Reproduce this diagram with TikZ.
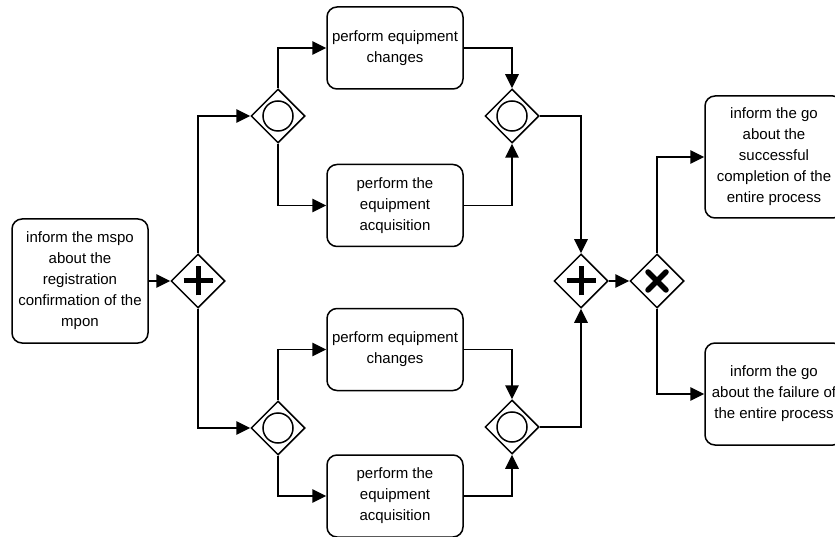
\documentclass[tikz,border=0pt]{standalone}
\usepackage{fontspec}
\setmainfont{Liberation Sans}
\usetikzlibrary{shapes.geometric,arrows.meta}

\tikzset{
  task/.style={draw, rounded corners=10pt, line width=1.5pt, align=center,
    inner sep=2pt, font=\fontsize{15}{21}\selectfont},
  gate/.style={diamond, draw, line width=1.5pt, minimum width=54pt,
    minimum height=54pt, inner sep=0pt, fill=white},
  inclusive/.style={gate, path picture={
    \draw[line width=1.5pt] (path picture bounding box.center) circle (15pt);}},
  parallel/.style={gate, path picture={
    \draw[line width=5pt]
      ([xshift=-14.5pt]path picture bounding box.center) -- ([xshift=14.5pt]path picture bounding box.center)
      ([yshift=-14.5pt]path picture bounding box.center) -- ([yshift=14.5pt]path picture bounding box.center);}},
  exclusive/.style={gate, path picture={
    \draw[line width=5.5pt, line cap=round]
      ([shift={(-9pt,-9pt)}]path picture bounding box.center) -- ([shift={(9pt,9pt)}]path picture bounding box.center)
      ([shift={(-9pt,9pt)}]path picture bounding box.center) -- ([shift={(9pt,-9pt)}]path picture bounding box.center);}},
  flow/.style={line width=1.5pt, -{Triangle[length=14pt,width=13.5pt]}},
}

\begin{document}
\begin{tikzpicture}[x=1pt, y=-1pt]
  \useasboundingbox (0,0) rectangle (835,537);
  \clip (0,0) rectangle (835,537);

  % tasks
  \node[task, minimum width=136pt, minimum height=124pt] (start) at (80,281)
    {inform the mspo\\about the\\registration\\confirmation of the\\mpon};
  \node[task, minimum width=136pt, minimum height=82pt] (chgA) at (395,48)
    {perform equipment\\changes};
  \node[task, minimum width=136pt, minimum height=82pt] (acqA) at (395,205.5)
    {perform the\\equipment\\acquisition};
  \node[task, minimum width=136pt, minimum height=82pt] (chgB) at (395,349.5)
    {perform equipment\\changes};
  \node[task, minimum width=136pt, minimum height=82pt] (acqB) at (395,496)
    {perform the\\equipment\\acquisition};
  \node[task, minimum width=138pt, minimum height=122pt] (ok) at (774,157)
    {inform the go\\about the\\successful\\completion of the\\entire process};
  \node[task, minimum width=138pt, minimum height=102pt] (fail) at (774,394)
    {inform the go\\about the failure of\\the entire process};

  % gateways
  \node[parallel]  (fork)  at (198,281) {};
  \node[inclusive] (splitA) at (278,116) {};
  \node[inclusive] (splitB) at (278,428) {};
  \node[inclusive] (mergeA) at (512,116) {};
  \node[inclusive] (mergeB) at (512,427) {};
  \node[parallel]  (join)  at (581,281) {};
  \node[exclusive] (decide) at (657,281) {};

  % sequence flows
  \draw[flow] (start.east) -- (fork.west);
  \draw[flow] (fork.north) |- (splitA.west);
  \draw[flow] (fork.south) |- (splitB.west);
  \draw[flow] (splitA.north) |- (chgA.west);
  \draw[flow] (splitA.south) |- (acqA.west);
  \draw[flow] (splitB.north) |- (chgB.west);
  \draw[flow] (splitB.south) |- (acqB.west);
  \draw[flow] (chgA.east) -| (mergeA.north);
  \draw[flow] (acqA.east) -| (mergeA.south);
  \draw[flow] (chgB.east) -| (mergeB.north);
  \draw[flow] (acqB.east) -| (mergeB.south);
  \draw[flow] (mergeA.east) -| (join.north);
  \draw[flow] (mergeB.east) -| (join.south);
  \draw[flow] (join.east) -- (decide.west);
  \draw[flow] (decide.north) |- (ok.west);
  \draw[flow] (decide.south) |- (fail.west);
\end{tikzpicture}
\end{document}
